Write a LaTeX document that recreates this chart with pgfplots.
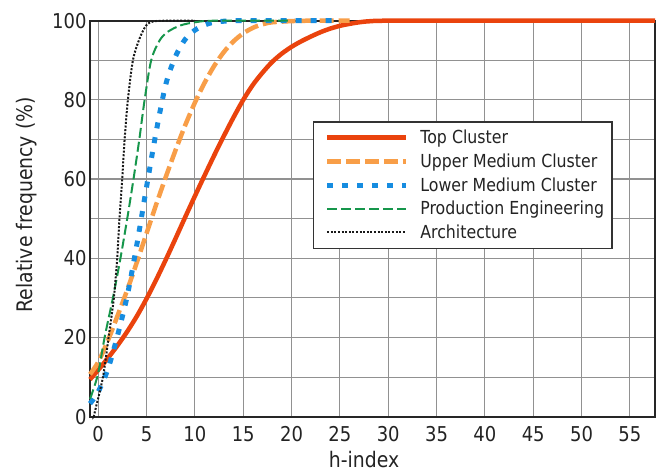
\documentclass[border=0pt]{standalone}
\usepackage{fontspec}
\setmainfont{DejaVu Sans}[FakeStretch=0.88]
\usepackage{pgfplots}
\pgfplotsset{compat=1.18}
\definecolor{topc}{RGB}{234,67,13}
\definecolor{upc}{RGB}{248,158,72}
\definecolor{lowc}{RGB}{22,140,224}
\definecolor{prodc}{RGB}{22,150,75}
\definecolor{archc}{RGB}{25,25,25}
\definecolor{gridc}{RGB}{145,145,145}
\definecolor{txtc}{RGB}{35,35,35}
\begin{document}
\begin{tikzpicture}
\path[use as bounding box] (-90bp,-54.3bp) rectangle (574bp,416.7bp);
\begin{axis}[
  at={(0,0)}, anchor=south west,
  scale only axis, width=565bp, height=396bp,
  xmin=-0.85, xmax=57.6, ymin=0, ymax=100,
  xtick={0,5,...,55}, ytick={0,20,...,100}, minor ytick={10,30,50,70,90},
  grid=both,
  major grid style={line width=1.2bp, color=gridc},
  minor grid style={line width=1.2bp, color=gridc},
  major tick length=0pt, minor tick length=0pt,
  axis line style={line width=2bp, color=black!85},
  /pgf/number format/assume math mode=true,
  ticklabel style={font=\fontsize{20.5}{24}\selectfont, text=txtc},
  xticklabel style={yshift=-6bp},
  xlabel={h-index}, ylabel={Relative frequency (\%)},
  label style={font=\fontsize{21.5}{26}\selectfont, text=txtc},
  xlabel style={at={(axis description cs:0.485,-0.128)}, anchor=base, inner sep=0.5bp},
  ylabel style={at={(axis description cs:-0.1009,0.535)}, anchor=base},
  clip=false,
  legend cell align=left,
  legend style={at={(axis description cs:0.394,0.7467)}, anchor=north west,
    draw=black!80, line width=1.5bp, inner xsep=5bp, inner ysep=4bp,
    column sep=8.7bp, row sep=0pt, text=txtc,
    font=\fontsize{18}{18}\selectfont,
    nodes={inner xsep=3bp, inner ysep=3.35bp, text height=14.5bp, text depth=2.5bp}},
  legend image code/.code={\path (0bp,0bp); \draw[#1] (6.3bp,0bp) -- (85.3bp,0bp);},
]
\addplot[color=topc, line width=4.5bp, smooth, tension=0.5, no markers] coordinates {
(-0.85,9.4) (0,11.8) (1,14.8) (2,18.0) (3,21.5) (4,25.4) (5,29.8) (6,34.6) (7,39.7) (8,45.0) (9,50.4) (10,55.7) (11,60.9) (12,66.0) (13,70.9) (14,75.6) (15,80.0) (16,83.8) (17,86.9) (18,89.6) (19,91.7) (20,93.4) (21,94.8) (22,96.0) (23,97.1) (24,98.0) (25,98.7) (26,99.2) (27,99.6) (28,99.85) (30,100) (40,100) (57.6,100)};
\addlegendentry{Top Cluster}
\addplot[color=upc, line width=4.5bp, dash pattern=on 14bp off 5bp, smooth, tension=0.5, no markers] coordinates {
(-0.85,10.7) (0,13.8) (1,19.2) (2,25.5) (3,32.0) (4,39.0) (5,46.3) (6,53.6) (7,60.6) (8,67.3) (9,73.6) (10,79.3) (11,84.3) (12,88.6) (13,92.1) (14,94.8) (15,96.8) (16,98.2) (17,99.1) (18,99.6) (20,99.9) (22,100) (26,100)};
\addlegendentry{Upper Medium Cluster}
\addplot[color=lowc, line width=5bp, dash pattern=on 6bp off 9bp, smooth, tension=0.5, no markers] coordinates {
(-0.85,3.3) (0,6.3) (1,12.0) (2,20.5) (3,30.5) (4,43.5) (5,58.0) (6,72.0) (7,84.0) (8,91.0) (9,95.3) (10,97.6) (11,98.9) (12,99.6) (14,100) (18,100) (25,100)};
\addlegendentry{Lower Medium Cluster}
\addplot[color=prodc, line width=2bp, dash pattern=on 10bp off 4bp, smooth, tension=0.5, no markers] coordinates {
(-0.85,4.5) (-0.64,5.9) (0,11) (0.66,20) (1.52,30) (2.3,40) (3.0,50) (3.65,60) (4.25,70) (4.8,80) (5.48,90) (6.35,95) (7.2,97.2) (8.5,98.8) (10,99.6) (12,100) (20,100)};
\addlegendentry{Production Engineering}
\addplot[color=archc, line width=2bp, dash pattern=on 2bp off 1.6bp, smooth, tension=0.5, no markers] coordinates {
(-0.45,0) (-0.37,1) (0.49,10) (1.07,20) (1.62,30) (1.96,40) (2.2,50) (2.48,60) (2.73,70) (3.07,80) (3.59,90) (4.28,95.5) (4.96,98.8) (5.66,99.8) (7,100) (10,100)};
\addlegendentry{Architecture}
\end{axis}
\end{tikzpicture}
\end{document}
